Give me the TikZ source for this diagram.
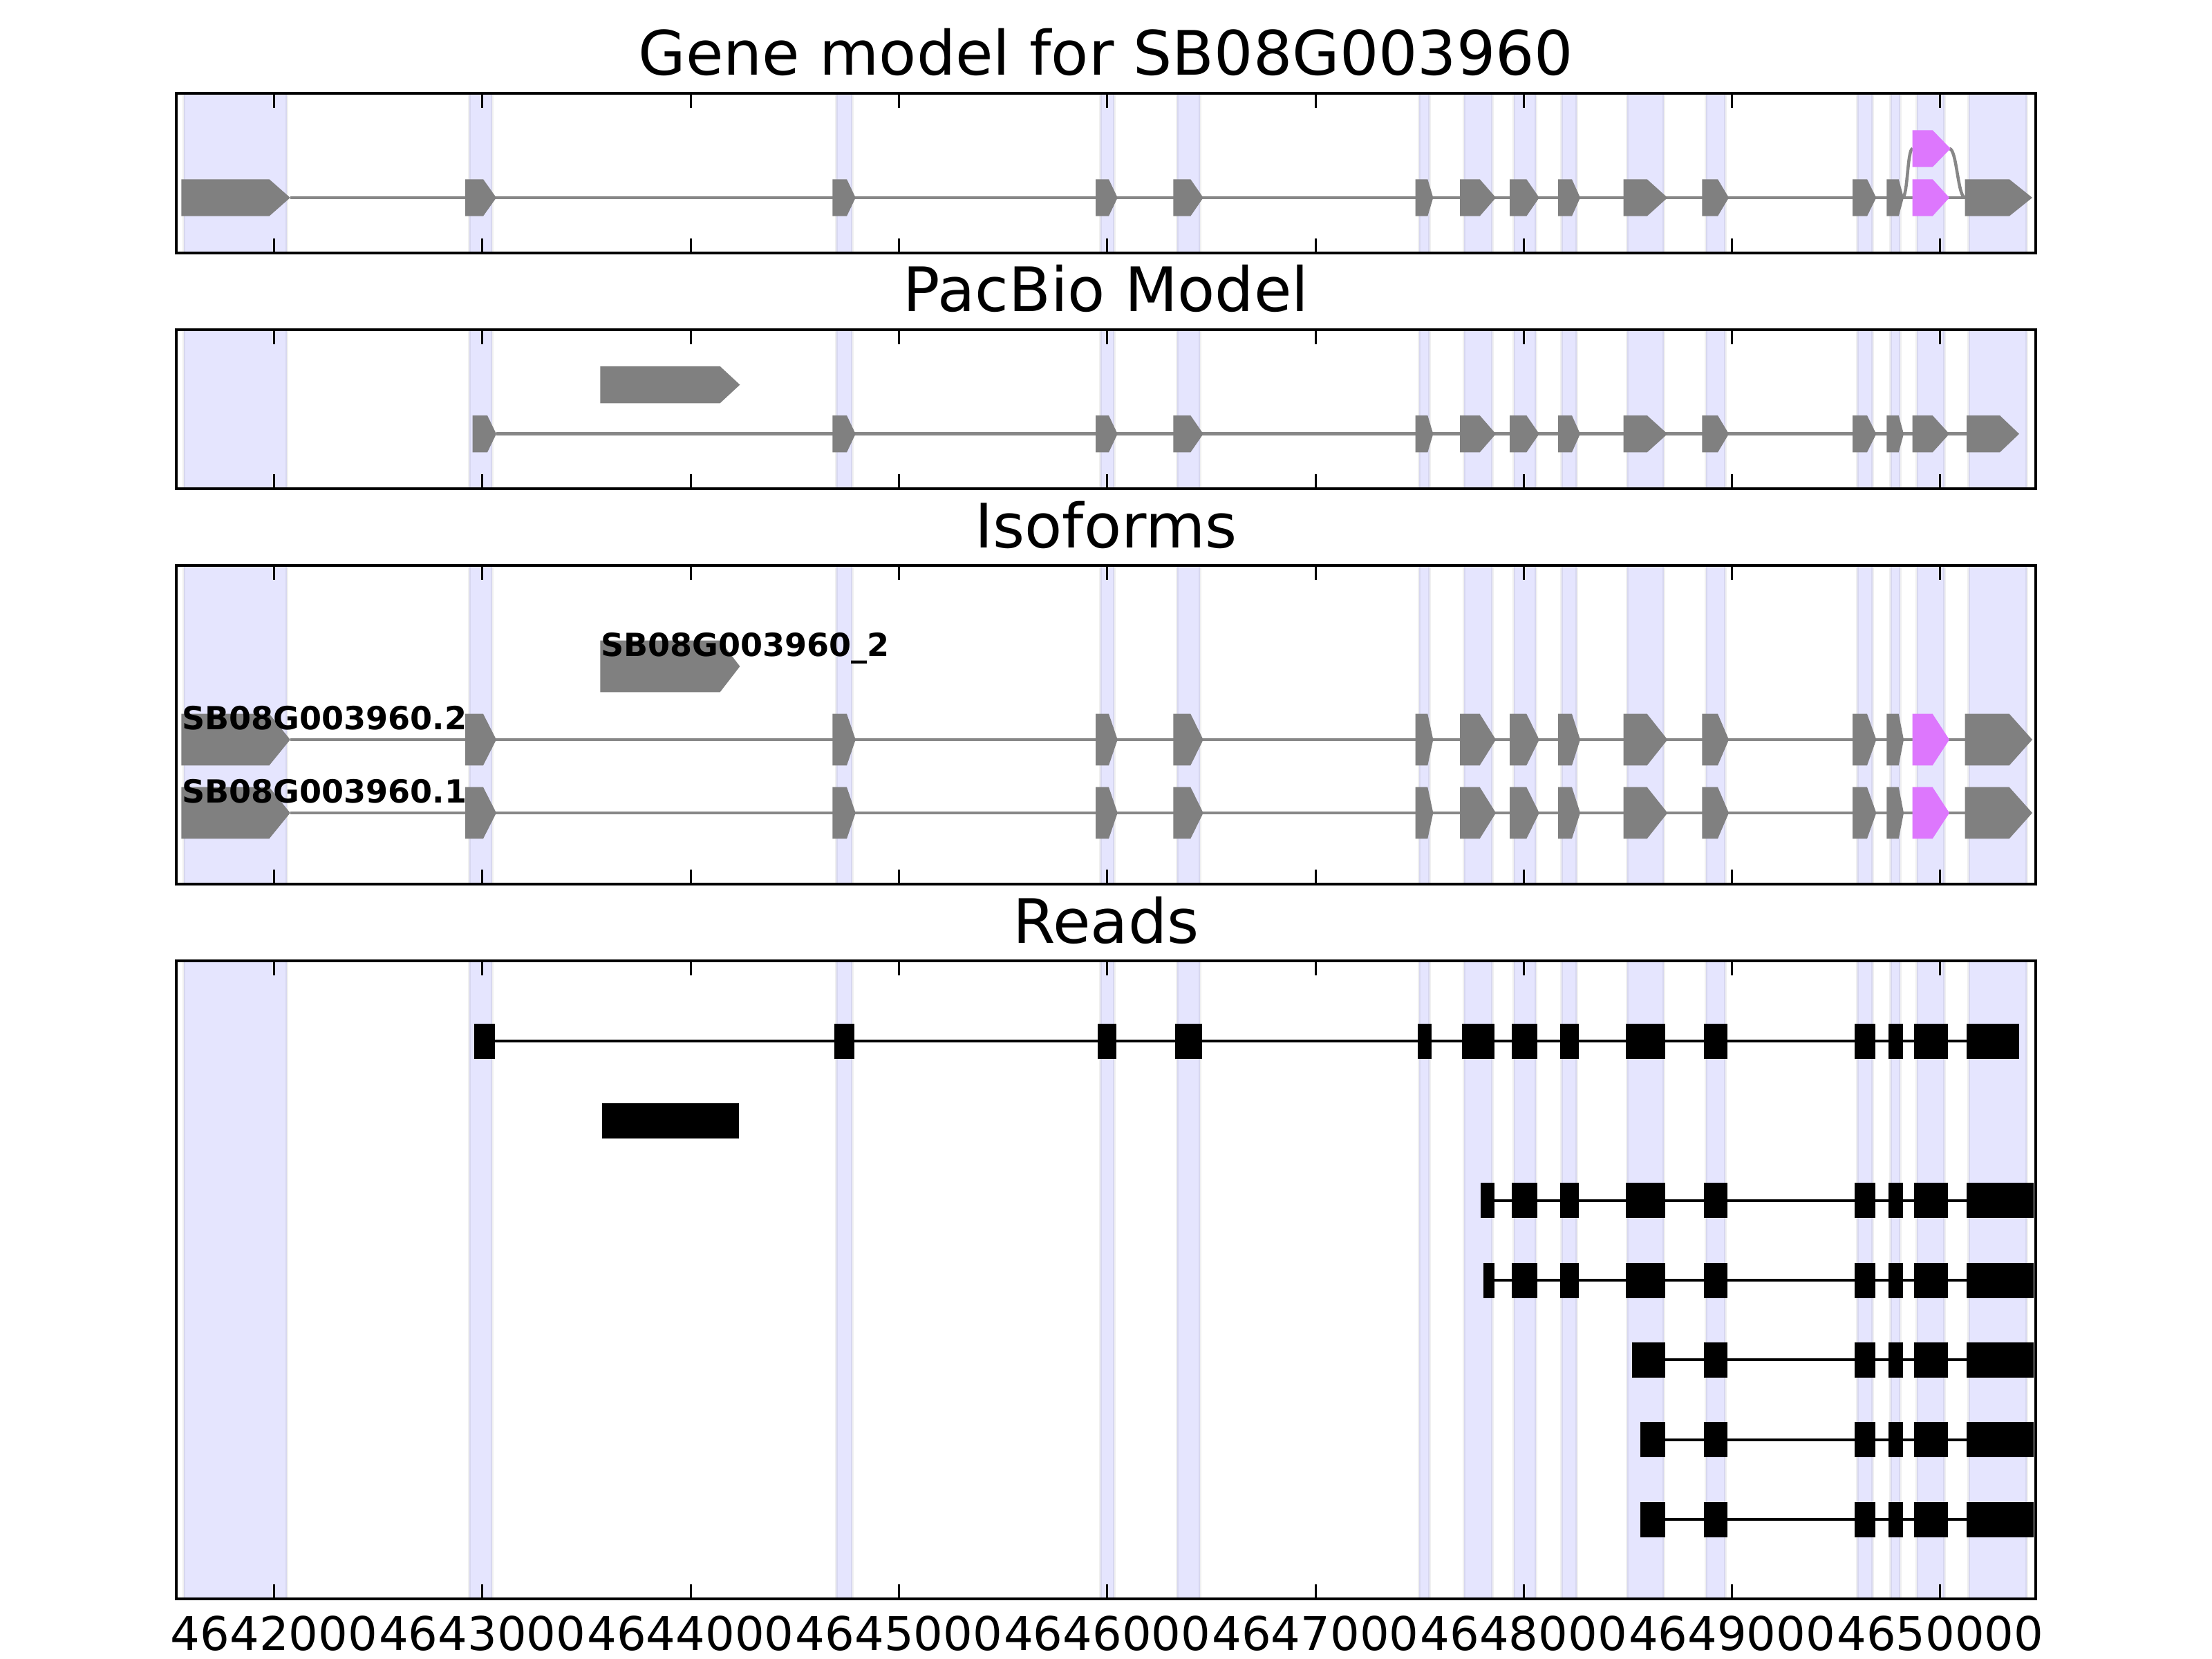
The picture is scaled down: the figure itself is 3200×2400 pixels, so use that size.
\documentclass[tikz,border=0pt]{standalone}
\usepackage{fontspec}
\setmainfont{DejaVu Sans}
\definecolor{exongray}{gray}{0.5}
\definecolor{introngray}{gray}{0.53}
\definecolor{bandblue}{RGB}{229,229,254}
\definecolor{altpink}{RGB}{221,119,253}
\tikzset{
  band/.style={fill=bandblue, draw=black, draw opacity=0.06, line width=0.04cm},
  panelframe/.style={draw=black, line width=0.04cm},
  tickmark/.style={draw=black, line width=0.03cm},
  intron/.style={draw=introngray, line width=0.045cm},
  readline/.style={draw=black, line width=0.04cm},
  readblock/.style={fill=black},
  paneltitle/.style={font=\fontsize{25.2pt}{30pt}\selectfont, anchor=base, inner sep=0},
  isolabel/.style={font=\fontsize{13.1pt}{15pt}\selectfont\bfseries, anchor=base west, inner sep=0},
  ticklabel/.style={font=\fontsize{19.1pt}{23pt}\selectfont, anchor=base, inner sep=0}
}
% exon bands behind every panel
\newcommand{\bands}[2]{%
  \foreach \bl/\br in {266/415,679/712,1210/1233,1592/1612,1703/1736,2053/2068,2118/2159,2190/2222,2259/2281,2354/2407,2468/2496,2687/2709,2735/2749,2773/2813,2848/2932}
    {\path[band] (\bl,#1) rectangle (\br,#2);}}
% ticks and frame of a panel
\newcommand{\axes}[2]{%
  \foreach \k in {0,...,8}{%
    \draw[tickmark] ({396.5+301.3*\k},#1) -- ++(0,21);
    \draw[tickmark] ({396.5+301.3*\k},#2) -- ++(0,-21);}
  \draw[panelframe] (255,#1) rectangle (2945,#2);}
% one exon: start, end of box, tip
\newcommand{\exon}[4][exongray]{%
  \fill[#1] (#2,\cy-\hh) -- (#3,\cy-\hh) -- (#4,\cy) -- (#3,\cy+\hh) -- (#2,\cy+\hh) -- cycle;}
\newcommand{\genemodel}{%
  \draw[intron] (419.8,\cy) -- (2842.7,\cy);
  \exon{262.4}{389.5}{419.8}
  \exon{673}{699}{718}
  \exon{1204.3}{1225}{1237.7}
  \exon{1585}{1604}{1616.7}
  \exon{1697.3}{1722.3}{1740.7}
  \exon{2047.7}{2065.3}{2073.3}
  \exon{2112}{2140.7}{2164}
  \exon{2184}{2208.3}{2226.7}
  \exon{2254}{2274}{2286}
  \exon{2348.7}{2382.7}{2412.3}
  \exon{2462.3}{2485}{2501}
  \exon{2680}{2701}{2714.3}
  \exon{2729.3}{2746.7}{2754}
  \exon[altpink]{2766.7}{2795.7}{2820}
  \exon{2842.7}{2906.7}{2940}}
% one aligned block of a read
\newcommand{\block}[3]{\fill[readblock] (#1,#3-25.5) rectangle (#2,#3+25.5);}
\newcommand{\tailblocks}[1]{%
  \block{2465}{2499}{#1}\block{2683}{2713}{#1}\block{2732}{2753}{#1}\block{2769}{2818}{#1}\block{2845}{2942}{#1}}
\begin{document}
\begin{tikzpicture}[x=0.01cm, y=-0.01cm]
  \fill[white] (0,0) rectangle (3200,2400);
  \useasboundingbox (0,0) rectangle (3200,2400);

  % gene model
  \node[paneltitle] (genetitle) at (1600,109) {Gene model for SB08G003960};
  \bands{135}{365.6}
  \def\cy{286}\def\hh{26.7}
  \draw[intron] (2752,286) .. controls (2760,286) and (2759,215) .. (2767,215);
  \draw[intron] (2820,215) .. controls (2831,215) and (2832,286) .. (2843,286);
  \genemodel
  \def\cy{215}
  \exon[altpink]{2766.7}{2795.7}{2821.7}
  \axes{135}{365.6}

  % PacBio
  \node[paneltitle] (pacbiotitle) at (1600,450.6) {PacBio Model};
  \bands{476.6}{707.2}
  \def\cy{556.6}
  \exon{868.4}{1041.6}{1070.4}
  \def\cy{627.7}
  \draw[intron] (718,\cy) -- (2845,\cy);
  \exon{683.5}{705}{718}
  \exon{1204.3}{1225}{1237.7}
  \exon{1585}{1604}{1616.7}
  \exon{1697.3}{1722.3}{1740.7}
  \exon{2047.7}{2065.3}{2073.3}
  \exon{2112}{2140.7}{2164}
  \exon{2184}{2208.3}{2226.7}
  \exon{2254}{2274}{2286}
  \exon{2348.7}{2382.7}{2412.3}
  \exon{2462.3}{2485}{2501}
  \exon{2680}{2701}{2714.3}
  \exon{2729.3}{2746.7}{2754}
  \exon{2766.7}{2795.7}{2820}
  \exon{2845}{2893}{2921}
  \axes{476.6}{707.2}

  % isoforms
  \node[paneltitle] (isotitle) at (1600,792.2) {Isoforms};
  \bands{818.2}{1279.4}
  \def\hh{37.3}
  \def\cy{964}
  \exon{868.4}{1041.6}{1070.4}
  \def\cy{1070}
  \genemodel
  \def\cy{1176}
  \genemodel
  \node[isolabel] (isopb) at (868.4,949) {SB08G003960\_2};
  \node[isolabel] (iso2) at (262.4,1055) {SB08G003960.2};
  \node[isolabel] (iso1) at (262.4,1161) {SB08G003960.1};
  \axes{818.2}{1279.4}

  % reads
  \node[paneltitle] (readstitle) at (1600,1364.4) {Reads};
  \bands{1390.4}{2312.9}
  \draw[readline] (686,1506) -- (2845,1506);
  \block{686}{716}{1506}\block{1207}{1236}{1506}\block{1588}{1615}{1506}
  \block{1700}{1739}{1506}\block{2051}{2071}{1506}\block{2115}{2162}{1506}
  \block{2187}{2224}{1506}\block{2257}{2284}{1506}\block{2352}{2409}{1506}
  \block{2465}{2499}{1506}\block{2683}{2713}{1506}\block{2732}{2753}{1506}
  \block{2769}{2818}{1506}\block{2845}{2921}{1506}
  \block{871}{1069}{1621.3}
  \draw[readline] (2142,1736.7) -- (2845,1736.7);
  \block{2142}{2162}{1736.7}\block{2187}{2224}{1736.7}\block{2257}{2284}{1736.7}\block{2352}{2409}{1736.7}
  \tailblocks{1736.7}
  \draw[readline] (2146,1852) -- (2845,1852);
  \block{2146}{2162}{1852}\block{2187}{2224}{1852}\block{2257}{2284}{1852}\block{2352}{2409}{1852}
  \tailblocks{1852}
  \draw[readline] (2361,1967.3) -- (2845,1967.3);
  \block{2361}{2409}{1967.3}
  \tailblocks{1967.3}
  \draw[readline] (2373,2082.7) -- (2845,2082.7);
  \block{2373}{2409}{2082.7}
  \tailblocks{2082.7}
  \draw[readline] (2373,2198) -- (2845,2198);
  \block{2373}{2409}{2198}
  \tailblocks{2198}
  \axes{1390.4}{2312.9}

  % positions
  \foreach \k/\pos in {0/4642000,1/4643000,2/4644000,3/4645000,4/4646000,5/4647000,6/4648000,7/4649000,8/4650000}
    \node[ticklabel] (tick\k) at ({396.5+301.3*\k},2387.3) {\pos};
\end{tikzpicture}
\end{document}
